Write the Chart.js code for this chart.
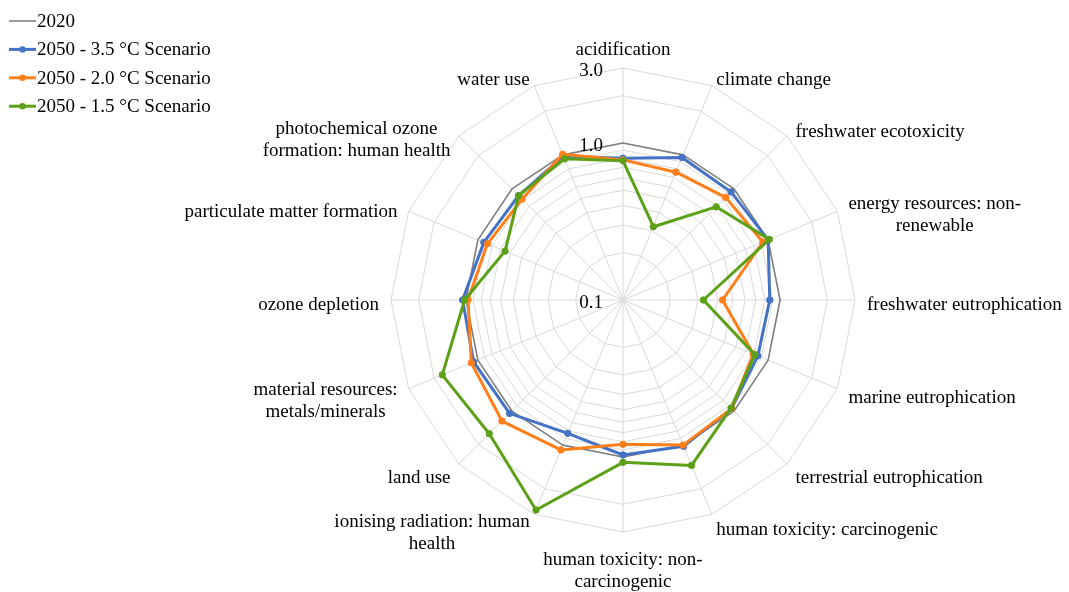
<!DOCTYPE html>
<html>
<head>
<meta charset="utf-8">
<script src="https://cdn.jsdelivr.net/npm/chart.js@4.4.1/dist/chart.umd.min.js"></script>
<style>
  html, body { margin: 0; padding: 0; background: #fff; }
  #wrap { width: 1069px; height: 592px; position: relative; }
</style>
</head>
<body>
<div id="wrap"><canvas id="radar"></canvas></div>
<script>
// categories, clockwise from the top
var categories = [
    "acidification",
    "climate change",
    "freshwater ecotoxicity",
    ["energy resources: non-", "renewable"],
    "freshwater eutrophication",
    "marine eutrophication",
    "terrestrial eutrophication",
    "human toxicity: carcinogenic",
    ["human toxicity: non-", "carcinogenic"],
    ["ionising radiation: human", "health"],
    "land use",
    ["material resources:", "metals/minerals"],
    "ozone depletion",
    "particulate matter formation",
    ["photochemical ozone", "formation: human health"],
    "water use"
];

var seriesNames = ["2020", "2050 - 3.5 °C Scenario", "2050 - 2.0 °C Scenario", "2050 - 1.5 °C Scenario"];

var values2020 = [1, 1, 1, 1, 1, 1, 1, 1, 1, 1, 1, 1, 1, 1, 1, 1];
var values35 = [0.80, 0.96, 0.94, 1.00, 0.86, 0.85, 0.95, 1.02, 0.97, 0.83, 1.05, 1.07, 1.05, 0.91, 0.87, 0.98];
var values20 = [0.78, 0.76, 0.84, 0.92, 0.43, 0.79, 0.95, 1.00, 0.83, 1.08, 1.23, 1.11, 0.97, 0.86, 0.81, 1.01];
var values15 = [0.77, 0.32, 0.69, 1.02, 0.325, 0.81, 0.94, 1.38, 1.08, 2.8, 1.60, 1.76, 1.02, 0.65, 0.87, 0.94];

// log axis: grid rings and the labelled ticks
var gridValues = [0.1, 0.2, 0.3, 0.4, 0.5, 0.6, 0.7, 0.8, 0.9, 1, 2, 3];
var tickValues = [0.1, 1, 3];
var tickLabels = ["0.1", "1.0", "3.0"];

var FONT = '19px "Liberation Serif", "Times New Roman", serif';
var LINE_H = 22;

function toLog(arr) {
    return arr.map(function (v) { return Math.log10(v); });
}

function makeSet(label, data, color, width, radius, order) {
    return {
        label: label,
        data: toLog(data),
        fill: false,
        borderColor: color,
        backgroundColor: color,
        borderWidth: width,
        borderJoinStyle: 'round',
        pointRadius: radius,
        pointHoverRadius: radius,
        pointBackgroundColor: color,
        pointBorderColor: color,
        pointBorderWidth: 1,
        order: order
    };
}

// text drawn on the canvas: axis labels, tick values, legend
var textPlugin = {
    id: 'radarText',
    afterDraw: function (chart) {
        var ctx = chart.ctx;
        var s = chart.scales.r;
        var n = categories.length;
        ctx.save();
        ctx.font = FONT;
        ctx.fillStyle = '#000';
        ctx.textAlign = 'center';
        ctx.textBaseline = 'middle';

        // category labels
        categories.forEach(function (lab, i) {
            var lines = Array.isArray(lab) ? lab : [lab];
            var p = s.getPointPosition(i, s.drawingArea + 12);
            var angle = Math.round(i * 360 / n);
            var w = 0;
            lines.forEach(function (t) { w = Math.max(w, ctx.measureText(t).width); });
            var h = lines.length * LINE_H;
            var cx = p.x, top = p.y - h / 2;
            if (angle > 0 && angle < 180) cx = p.x + w / 2;
            if (angle > 180) cx = p.x - w / 2;
            if (angle === 0) top = p.y - h;
            if (angle === 180) top = p.y;
            top += 5;
            if (lines.length > 1 && angle !== 180) top += 3;
            if (angle === 315) top += 5;
            lines.forEach(function (t, k) {
                ctx.fillText(t, cx, top + LINE_H * (k + 0.5));
            });
        });

        // tick values, left of the vertical axis
        ctx.textAlign = 'right';
        tickValues.forEach(function (v, k) {
            var y = s.yCenter - s.getDistanceFromCenterForValue(Math.log10(v));
            ctx.fillText(tickLabels[k], s.xCenter - 20, y + 3);
        });

        // legend
        ctx.textAlign = 'left';
        chart.data.datasets.forEach(function (ds, k) {
            var y = 21 + k * 28.4;
            ctx.strokeStyle = ds.borderColor;
            ctx.lineWidth = ds.borderWidth;
            ctx.beginPath();
            ctx.moveTo(9, y);
            ctx.lineTo(36, y);
            ctx.stroke();
            if (ds.pointRadius > 0) {
                ctx.fillStyle = ds.borderColor;
                ctx.beginPath();
                ctx.arc(22.5, y, 3.2, 0, Math.PI * 2);
                ctx.fill();
            }
            ctx.fillStyle = '#000';
            ctx.fillText(ds.label, 37, y + 1);
        });
        ctx.restore();
    }
};

var ctxr = document.getElementById('radar');
var radarChart = new Chart(ctxr, {
    type: 'radar',
    data: {
        labels: categories,
        datasets: [
            makeSet(seriesNames[0], values2020, '#808080', 1.6, 0, 3),
            makeSet(seriesNames[1], values35, '#4472C4', 3, 3.2, 2),
            makeSet(seriesNames[2], values20, '#FF7F1A', 3, 3.2, 1),
            makeSet(seriesNames[3], values15, '#5CA018', 3, 3.2, 0)
        ]
    },
    options: {
        responsive: true,
        maintainAspectRatio: false,
        animation: false,
        plugins: {
            legend: { display: false },
            tooltip: { enabled: false }
        },
        scales: {
            r: {
                min: Math.log10(0.1),
                max: Math.log10(3),
                startAngle: 0,
                angleLines: { color: '#d9d9d9', lineWidth: 1 },
                grid: { color: '#d9d9d9', lineWidth: 1 },
                pointLabels: { display: false },
                ticks: { display: false },
                afterBuildTicks: function (scale) {
                    scale.ticks = gridValues.map(function (v) { return { value: Math.log10(v) }; });
                },
                afterFit: function (scale) {
                    // same centre and radius as the original figure
                    scale.xCenter = 623;
                    scale.yCenter = 300;
                    scale.drawingArea = 232;
                }
            }
        }
    },
    plugins: [textPlugin]
});
</script>
</body>
</html>
